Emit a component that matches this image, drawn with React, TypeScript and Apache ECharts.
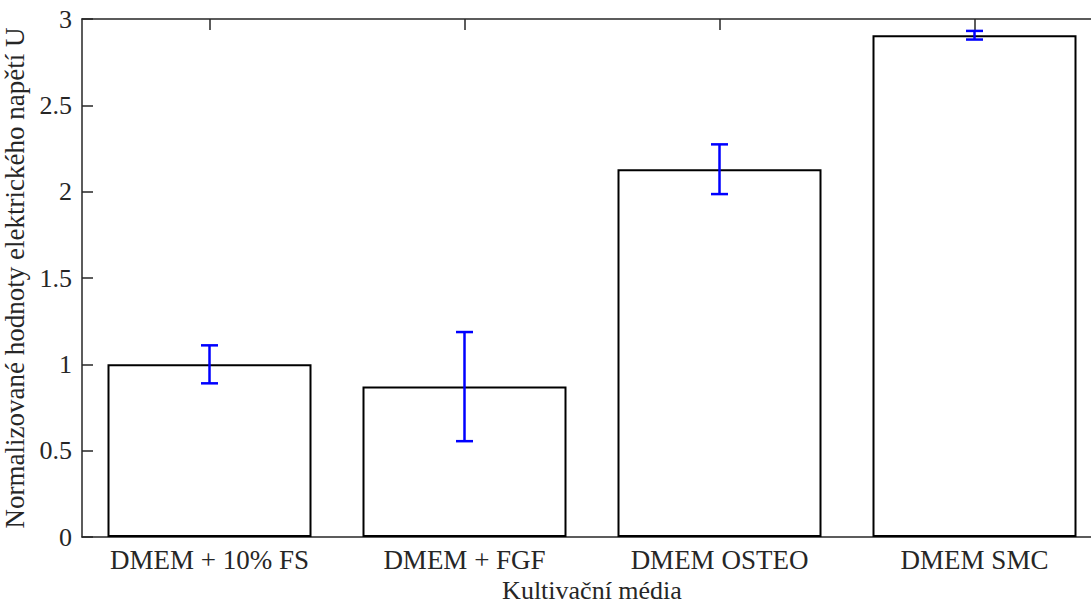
import React, { useEffect, useRef } from "react";
import * as echarts from "echarts";

const categories = ["DMEM + 10% FS", "DMEM + FGF", "DMEM OSTEO", "DMEM SMC"];
const means = [1.0, 0.871, 2.13, 2.906];
const errors = [0.11, 0.316, 0.144, 0.025];
const yTicks = { min: 0, max: 3, interval: 0.5 };

const FONT = "'Liberation Serif', 'Times New Roman', serif";
const AX = "#262626";

export default function App() {
  const ref = useRef<HTMLDivElement>(null);
  useEffect(() => {
    if (!ref.current) return;
    const chart = echarts.init(ref.current, undefined, { renderer: "svg" });
    const errData = means.map((m, i) => [i, m - errors[i], m + errors[i]]);
    const axisLine = { show: true, onZero: false, lineStyle: { color: AX, width: 1.5 } };
    chart.setOption({
      animation: false,
      backgroundColor: "#ffffff",
      grid: { left: 82, top: 19, width: 1020, height: 518, outerBoundsMode: "none", containLabel: false },
      xAxis: [
        {
          type: "category",
          data: categories,
          position: "bottom",
          axisLine,
          axisTick: { show: false },
          axisLabel: { interval: 0, hideOverlap: false, fontFamily: FONT, fontSize: 27, color: AX, margin: 9 },
          name: "Kultivační média",
          nameLocation: "middle",
          nameGap: 40,
          nameTextStyle: { fontFamily: FONT, fontSize: 26, color: AX },
        },
        {
          type: "category",
          data: categories,
          position: "top",
          axisLine,
          axisTick: { show: true, inside: true, length: 11, alignWithLabel: true, interval: 0, lineStyle: { color: AX, width: 1.5 } },
          axisLabel: { show: false },
        },
      ],
      yAxis: [
        {
          type: "value",
          position: "left",
          min: yTicks.min,
          max: yTicks.max,
          interval: yTicks.interval,
          axisLine,
          axisTick: { show: true, inside: true, length: 11, lineStyle: { color: AX, width: 1.5 } },
          axisLabel: { fontFamily: FONT, fontSize: 26, color: AX, margin: 10, formatter: (v: number) => String(v) },
          splitLine: { show: false },
          name: "Normalizované hodnoty elektrického napětí U",
          nameLocation: "middle",
          nameGap: 44,
          nameTextStyle: { fontFamily: FONT, fontSize: 27, color: AX },
        },
        {
          type: "value",
          position: "right",
          min: yTicks.min,
          max: yTicks.max,
          interval: yTicks.interval,
          axisLine,
          axisTick: { show: true, inside: true, length: 11, lineStyle: { color: AX, width: 1.5 } },
          axisLabel: { show: false },
          splitLine: { show: false },
        },
      ],
      series: [
        {
          type: "bar",
          xAxisIndex: 0,
          yAxisIndex: 0,
          data: means,
          barWidth: "80%",
          itemStyle: { color: "#ffffff", borderColor: "#000000", borderWidth: 2 },
          z: 3,
        },
        {
          type: "custom",
          xAxisIndex: 0,
          yAxisIndex: 0,
          data: errData,
          z: 5,
          renderItem: (params: any, api: any) => {
            const i = api.value(0);
            const lo = api.coord([i, api.value(1)]);
            const hi = api.coord([i, api.value(2)]);
            const hw = 8.5;
            const style = { stroke: "#0000ff", lineWidth: 2.5 };
            return {
              type: "group",
              children: [
                { type: "line", shape: { x1: lo[0], y1: lo[1], x2: hi[0], y2: hi[1] }, style },
                { type: "line", shape: { x1: lo[0] - hw, y1: lo[1], x2: lo[0] + hw, y2: lo[1] }, style },
                { type: "line", shape: { x1: hi[0] - hw, y1: hi[1], x2: hi[0] + hw, y2: hi[1] }, style },
              ],
            };
          },
        },
      ],
    });
    return () => chart.dispose();
  }, []);
  return (
    <div
      ref={ref}
      style={{ position: "fixed", left: 0, top: 0, width: 1115, height: 605, background: "#fff" }}
    />
  );
}
